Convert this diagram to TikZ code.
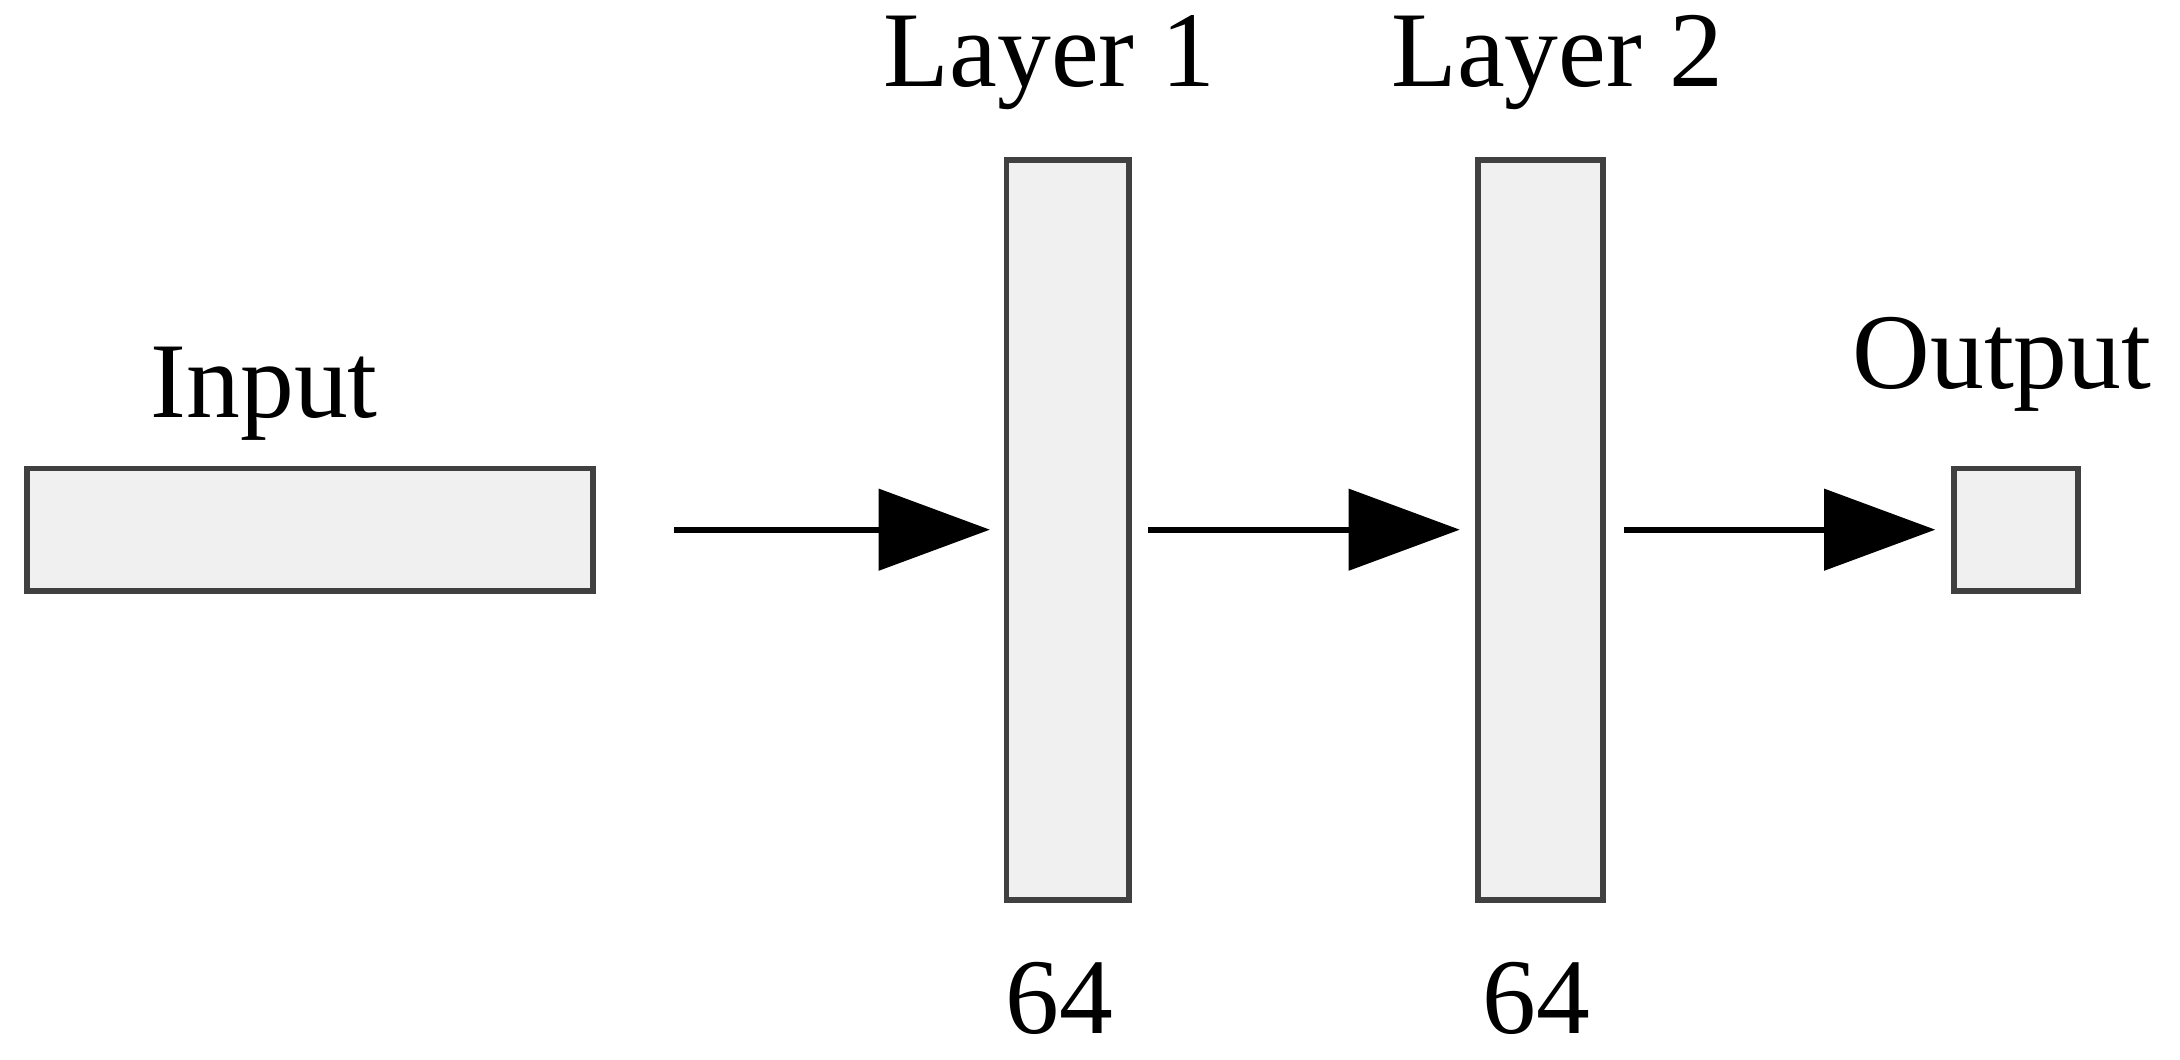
\documentclass[tikz,border=0pt]{standalone}
\usepackage{fontspec}
\setmainfont{Liberation Serif}
\usetikzlibrary{arrows.meta}
\begin{document}
\begin{tikzpicture}[x=0.01cm,y=-0.01cm,
  box/.style={draw=black!75,line width=1.2pt,fill=black!6,inner sep=0pt},
  lbl/.style={font=\fontsize{22}{26}\selectfont,inner sep=0pt},
  arr/.style={line width=1.2pt,-{Triangle[length=0.8cm,width=0.58cm]}}]
\useasboundingbox (0,0) rectangle (1568,762);
\node[box,minimum width=4.07cm,minimum height=0.88cm] (in) at (223,381) {};
\node[box,minimum width=0.88cm,minimum height=5.32cm] (l1) at (768,381) {};
\node[box,minimum width=0.9cm,minimum height=5.32cm] (l2) at (1108,381) {};
\node[box,minimum width=0.89cm,minimum height=0.88cm] (out) at (1450,381) {};
\node[lbl] (tin) at (190,283) {Input};
\node[lbl] (t1) at (755,45) {Layer 1};
\node[lbl] (t2) at (1120,45) {Layer 2};
\node[lbl] (to) at (1440,262) {Output};
\node[lbl] (n1) at (762,718) {64};
\node[lbl] (n2) at (1105,718) {64};
\coordinate (a1) at (485,381); \coordinate (b1) at (712,381);
\coordinate (a2) at (826,381); \coordinate (b2) at (1050,381);
\coordinate (a3) at (1168,381); \coordinate (b3) at (1392,381);
\draw[arr] (a1) -- (b1);
\draw[arr] (a2) -- (b2);
\draw[arr] (a3) -- (b3);
\end{tikzpicture}
\end{document}
